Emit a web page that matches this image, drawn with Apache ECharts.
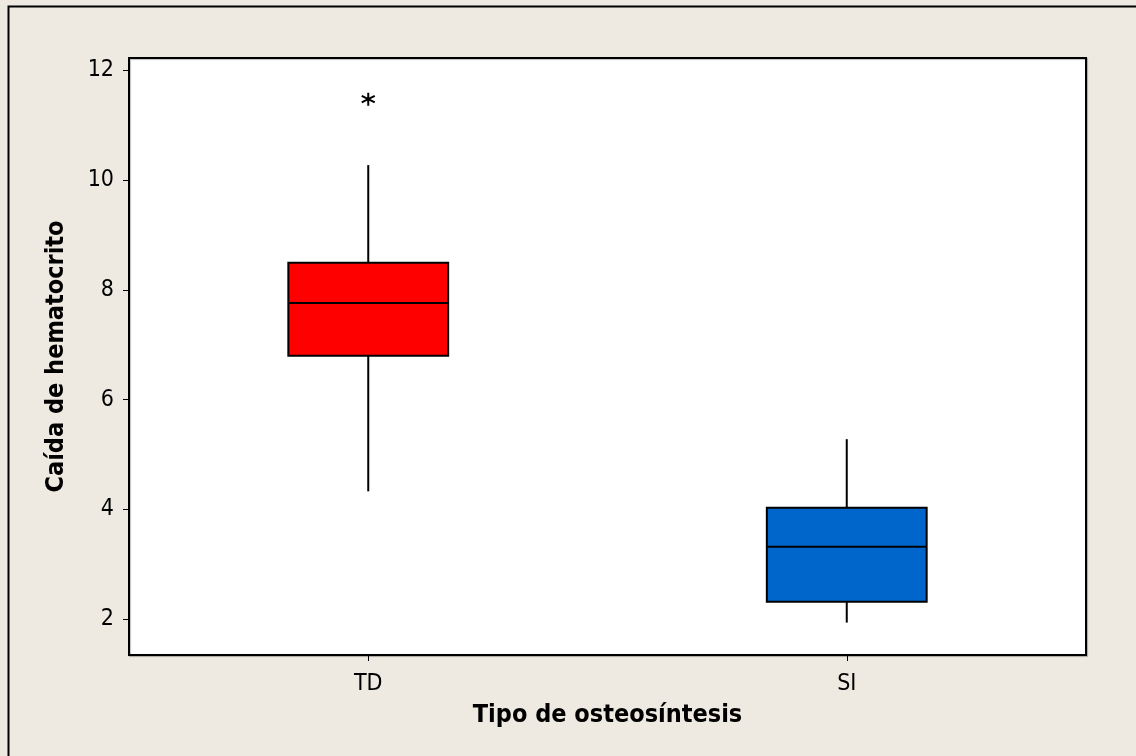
<!DOCTYPE html>
<html>
<head>
<meta charset="utf-8">
<script src="https://cdn.jsdelivr.net/npm/echarts@6/dist/echarts.min.js"></script>
<style>
html,body{margin:0;padding:0;background:#EEEAE1;}
#c{width:1136px;height:756px;}
</style>
</head>
<body>
<div id="c"></div>
<script>
const categories = ['TD', 'SI'];
// [low whisker, Q1, median, Q3, high whisker]
const tdBox = [4.33, 6.80, 7.76, 8.49, 10.27];
const siBox = [1.94, 2.32, 3.32, 4.03, 5.28];
const tdOutliers = [11.47];
const siOutliers = [];
const boxColors = ['#FF0000', '#0066CC'];
const yTicks = [2, 4, 6, 8, 10, 12];
const xTitle = 'Tipo de osteosíntesis';
const yTitle = 'Caída de hematocrito';

const boxes = [tdBox, siBox];
const boxData = boxes.map((b, i) => [i].concat(b));
const outlierData = [];
tdOutliers.forEach(v => outlierData.push([0, v]));
siOutliers.forEach(v => outlierData.push([1, v]));

const font = '"DejaVu Sans Condensed", "DejaVu Sans", Verdana, sans-serif';
const chart = echarts.init(document.getElementById('c'));

function renderBox(params, api) {
  const idx = api.value(0);
  const lo = api.coord([idx, api.value(1)]);
  const q1 = api.coord([idx, api.value(2)]);
  const med = api.coord([idx, api.value(3)]);
  const q3 = api.coord([idx, api.value(4)]);
  const hi = api.coord([idx, api.value(5)]);
  const band = api.size([1, 0])[0];
  const w = band * 0.334;
  const x = q1[0];
  const stroke = {stroke: '#000', lineWidth: 2};
  return {
    type: 'group',
    children: [
      {type: 'line', shape: {x1: x, y1: hi[1], x2: x, y2: q3[1]}, style: stroke},
      {type: 'line', shape: {x1: x, y1: q1[1], x2: x, y2: lo[1]}, style: stroke},
      {type: 'rect', shape: {x: x - w / 2, y: q3[1], width: w, height: q1[1] - q3[1]},
        style: {fill: boxColors[idx], stroke: '#000', lineWidth: 2}},
      {type: 'line', shape: {x1: x - w / 2, y1: med[1], x2: x + w / 2, y2: med[1]}, style: stroke}
    ]
  };
}

chart.setOption({
  backgroundColor: '#EEEAE1',
  animation: false,
  graphic: [{
    type: 'rect', left: 6, top: 4, z: -10,
    shape: {x: 0, y: 0, width: 1200, height: 800},
    style: {fill: 'none', stroke: '#000', lineWidth: 2}
  }],
  grid: {
    left: 129, top: 58, width: 957, height: 597,
    show: true, backgroundColor: '#fff', borderColor: '#000', borderWidth: 2,
    shadowColor: 'rgba(0,0,0,0.25)', shadowOffsetX: 1, shadowOffsetY: 1, shadowBlur: 1
  },
  xAxis: {
    type: 'category', data: categories, boundaryGap: true,
    name: xTitle, nameLocation: 'middle', nameGap: 48,
    nameTextStyle: {fontFamily: font, fontSize: 25, fontWeight: 'bold', color: '#000'},
    axisLine: {show: true, lineStyle: {color: '#000', width: 2}},
    axisTick: {show: true, alignWithLabel: true, length: 6, lineStyle: {color: '#000', width: 1}},
    axisLabel: {fontFamily: font, fontSize: 23, color: '#000', margin: 18},
    splitLine: {show: false}
  },
  yAxis: {
    type: 'value', min: 1.35, max: 12.22,
    name: yTitle, nameLocation: 'middle', nameGap: 60,
    nameTextStyle: {fontFamily: font, fontSize: 25, fontWeight: 'bold', color: '#000'},
    axisLine: {show: true, lineStyle: {color: '#000', width: 2}},
    axisTick: {show: true, length: 6, customValues: yTicks, lineStyle: {color: '#000', width: 1}},
    axisLabel: {fontFamily: font, fontSize: 23, color: '#000', margin: 15, customValues: yTicks},
    splitLine: {show: false}
  },
  series: [
    {type: 'custom', renderItem: renderBox, data: boxData, encode: {x: 0, y: [1, 2, 3, 4, 5]}},
    {type: 'scatter', data: outlierData,
      symbol: 'path://M5 0 L5 10 M0.7 2.5 L9.3 7.5 M0.7 7.5 L9.3 2.5',
      symbolSize: 13,
      itemStyle: {color: 'rgba(0,0,0,0)', borderColor: '#000', borderWidth: 2, opacity: 1}}
  ]
});
</script>
</body>
</html>
